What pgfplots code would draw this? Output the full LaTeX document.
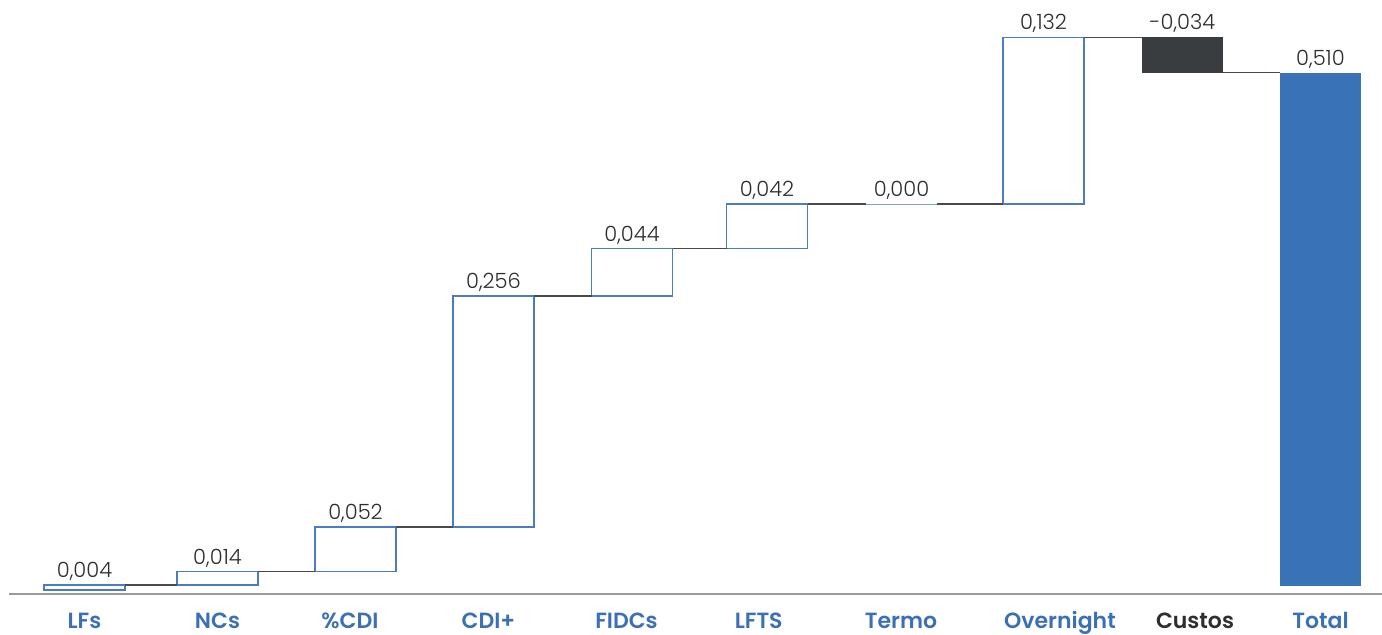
\documentclass[border=0pt]{standalone}
\usepackage{pgfplots}
\usepackage{pgfplotstable}
\pgfplotsset{compat=1.18}
\usepackage{fontspec}
\setmainfont{Poppins}
\newfontfamily\catfont{Poppins SemiBold}
\newfontfamily\numfont{Poppins Light}
\definecolor{cblue}{HTML}{3A72B8}
\definecolor{cline}{HTML}{4A7CC4}
\definecolor{cdark}{HTML}{3A3D40}
\definecolor{ctext}{HTML}{2E2E2E}
\definecolor{cconn}{HTML}{4A4A4A}
\definecolor{caxis}{HTML}{9A9A9A}
\definecolor{clab}{HTML}{3C70B6}

\pgfplotstableread{
x base inc cost tot top label
84.5 4 5 0 0 9 0,004
217.5 9 13.5 0 0 22.5 0,014
355.5 22.5 44.5 0 0 67 0,052
493.5 67 231 0 0 298 0,256
632 298 47.5 0 0 345.5 0,044
767 345.5 44.5 0 0 390 0,042
901.5 390 0 0 0 390 0,000
1043.5 390 166.7 0 0 556.7 0,132
1182.5 521.3 0 35.4 0 556.7 -0,034
1320.5 8.3 0 0 513 521.3 0,510
}\wfdata

\begin{document}
\begin{tikzpicture}
\begin{axis}[
  scale only axis,
  width=691pt, height=297pt,
  xmin=0, xmax=1382, ymin=0, ymax=594,
  clip=false,
  axis line style={draw=none},
  major tick length=0pt,
  ytick=\empty,
  xtick={84.5,217.5,350,488.5,626.5,758.7,901,1060,1195,1320.5},
  xticklabels={LFs,NCs,\%CDI,CDI+,FIDCs,LFTS,Termo,Overnight,\textcolor{ctext}{Custos},Total},
  xticklabel style={anchor=base, yshift=-17.5pt, font=\fontsize{11}{12}\selectfont\catfont, text=clab},
  ybar stacked,
  bar width=81,
]
\addplot[draw=none, fill=none] table[x=x, y=base] {\wfdata};
\addplot[draw=cline, line width=0.6pt, fill=white] table[x=x, y=inc] {\wfdata};
\addplot[draw=none, fill=cdark] table[x=x, y=cost] {\wfdata};
\addplot[draw=none, fill=cblue] table[x=x, y=tot] {\wfdata};
\end{axis}
\begin{axis}[
  scale only axis,
  width=691pt, height=297pt,
  xmin=0, xmax=1382, ymin=0, ymax=594,
  clip=false, hide axis,
  unbounded coords=jump,
]
\addplot[cconn, line width=0.7pt, mark=none] coordinates {
 (125,9) (177,9) (nan,nan)
 (258,22.5) (315,22.5) (nan,nan)
 (396,67) (453,67) (nan,nan)
 (534,298) (591.5,298) (nan,nan)
 (672.5,345.5) (726.5,345.5) (nan,nan)
 (807.5,390) (866,390) (nan,nan)
 (937,390) (1003,390) (nan,nan)
 (1084,556.7) (1142,556.7) (nan,nan)
 (1223,521.3) (1280,521.3)
};
\addplot[cline!70, line width=0.6pt, mark=none] coordinates {(866,389.7) (937,389.7)};
\addplot[caxis, line width=0.8pt, mark=none] coordinates {(9,0) (1382,0)};
\addplot[only marks, mark=*, mark size=0pt, mark options={draw opacity=0, fill opacity=0},
  nodes near coords, point meta=explicit symbolic,
  every node near coord/.append style={font=\fontsize{10.5}{12}\selectfont\numfont, text=ctext, anchor=south, inner sep=2pt, text opacity=1}]
  table[x=x, y=top, meta=label] {\wfdata};
\end{axis}
\pgfresetboundingbox
\path[use as bounding box] (0,-20.5pt) rectangle (691pt,297pt);
\end{tikzpicture}
\end{document}
